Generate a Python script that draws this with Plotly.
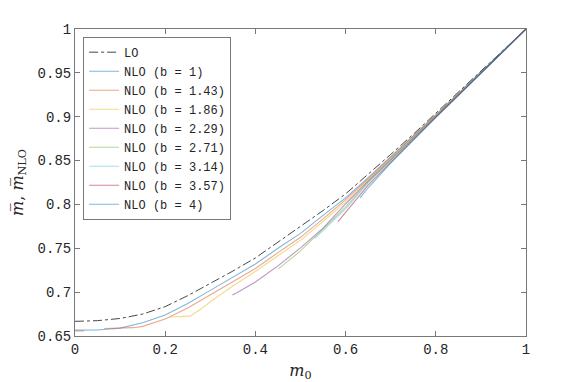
import plotly.graph_objects as go

# ── Data ─────────────────────────────────────────────────────────────────────
M0_GRID = [0.00, 0.05, 0.10, 0.15, 0.20, 0.25, 0.30, 0.35, 0.40, 0.45, 0.50,
           0.55, 0.60, 0.65, 0.70, 0.75, 0.80, 0.85, 0.90, 0.95, 1.00]

LO_VALS = [0.6667, 0.6675, 0.6700, 0.6750, 0.6835, 0.6960, 0.7100, 0.7240,
           0.7390, 0.7570, 0.7740, 0.7930, 0.8120, 0.8340, 0.8570, 0.8800,
           0.9040, 0.9280, 0.9520, 0.9760, 1.0000]

B_LABELS = ["1", "1.43", "1.86", "2.29", "2.71", "3.14", "3.57", "4"]

NLO_X = {
    "1":    M0_GRID,
    "1.43": [0.0, 0.02, None, 0.065, 0.10, 0.13, 0.15, 0.20, 0.25, 0.30, 0.35,
             0.40, 0.45, 0.50, 0.55, 0.60, 0.65, 0.70, 0.75, 0.80, 0.85, 0.90,
             0.95, 1.00],
    "1.86": [0.21, 0.255, 0.28, 0.30, 0.35, 0.40, 0.45, 0.50, 0.55, 0.60, 0.65,
             0.70, 0.75, 0.80, 0.85, 0.90, 0.95, 1.00],
    "2.29": [0.349, 0.36, 0.40, 0.45, 0.50, 0.55, 0.60, 0.65, 0.70, 0.75, 0.80,
             0.85, 0.90, 0.95, 1.00],
    "2.71": [0.451, 0.50, 0.55, 0.60, 0.65, 0.70, 0.75, 0.80, 0.85, 0.90, 0.95,
             1.00],
    "3.14": [0.532, 0.55, 0.60, 0.65, 0.70, 0.75, 0.80, 0.85, 0.90, 0.95, 1.00],
    "3.57": [0.583, 0.60, 0.65, 0.70, 0.75, 0.80, 0.85, 0.90, 0.95, 1.00],
    "4":    [0.632, 0.65, 0.70, 0.75, 0.80, 0.85, 0.90, 0.95, 1.00],
}

NLO_Y = {
    "1":    [0.6567, 0.6568, 0.6590, 0.6650, 0.6740, 0.6870, 0.7020, 0.7170,
             0.7320, 0.7500, 0.7670, 0.7875, 0.8075, 0.8305, 0.8540, 0.8775,
             0.9020, 0.9265, 0.9510, 0.9755, 1.0000],
    "1.43": [0.6557, 0.6557, None, 0.6585, 0.6587, 0.6595, 0.6610, 0.6695,
             0.6820, 0.6970, 0.7125, 0.7270, 0.7450, 0.7625, 0.7835, 0.8055,
             0.8290, 0.8530, 0.8770, 0.9015, 0.9260, 0.9505, 0.9753, 1.0000],
    "1.86": [0.6717, 0.6727, 0.6810, 0.6890, 0.7070, 0.7235, 0.7415, 0.7590,
             0.7805, 0.8030, 0.8275, 0.8520, 0.8760, 0.9010, 0.9255, 0.9500,
             0.9750, 1.0000],
    "2.29": [0.6967, 0.6995, 0.7115, 0.7300, 0.7505, 0.7730, 0.8005, 0.8265,
             0.8510, 0.8755, 0.9005, 0.9250, 0.9497, 0.9749, 1.0000],
    "2.71": [0.7265, 0.7470, 0.7720, 0.7970, 0.8255, 0.8500, 0.8750, 0.9000,
             0.9248, 0.9495, 0.9748, 1.0000],
    "3.14": [0.7614, 0.7700, 0.7950, 0.8245, 0.8495, 0.8745, 0.8998, 0.9246,
             0.9494, 0.9747, 1.0000],
    "3.57": [0.7805, 0.7910, 0.8220, 0.8480, 0.8740, 0.8995, 0.9244, 0.9493,
             0.9746, 1.0000],
    "4":    [0.8075, 0.8190, 0.8470, 0.8735, 0.8990, 0.9240, 0.9490, 0.9745,
             1.0000],
}

# MATLAB default colour order, drawn half transparent
B_COLORS = {
    "1":    "rgba(0,114,189,0.5)",
    "1.43": "rgba(217,83,25,0.5)",
    "1.86": "rgba(237,177,32,0.5)",
    "2.29": "rgba(126,47,142,0.5)",
    "2.71": "rgba(119,172,48,0.5)",
    "3.14": "rgba(77,190,238,0.5)",
    "3.57": "rgba(162,20,47,0.5)",
    "4":    "rgba(0,114,189,0.5)",
}

X_TICKS = [0, 0.2, 0.4, 0.6, 0.8, 1]
X_TICK_TEXT = ["0", "0.2", "0.4", "0.6", "0.8", "1"]
Y_TICKS = [0.65, 0.7, 0.75, 0.8, 0.85, 0.9, 0.95, 1]
Y_TICK_TEXT = ["0.65", "0.7", "0.75", "0.8", "0.85", "0.9", "0.95", "1"]

MONO = "Liberation Mono, Courier New, monospace"
SERIF = "DejaVu Serif, Liberation Serif, serif"
AX_GRAY = "rgb(120,120,120)"
TXT = "rgb(38,38,38)"

# ── Figure ───────────────────────────────────────────────────────────────────
fig = go.Figure()

fig.add_trace(go.Scatter(
    x=M0_GRID, y=LO_VALS, mode="lines", name="LO",
    line=dict(color="rgb(50,50,50)", width=0.9, dash="dashdot"),
))

for b in B_LABELS:
    fig.add_trace(go.Scatter(
        x=NLO_X[b], y=NLO_Y[b], mode="lines",
        name=f"NLO (b = {b})",
        line=dict(color=B_COLORS[b], width=1.1),
        connectgaps=False,
    ))

axis_common = dict(
    showgrid=False, zeroline=False, automargin=False,
    showline=True, linecolor=AX_GRAY, linewidth=1, mirror="ticks",
    ticks="inside", ticklen=5, tickcolor=AX_GRAY, tickwidth=1,
    tickfont=dict(family=MONO, size=14, color=TXT),
)

fig.update_xaxes(
    range=[0, 1], tickvals=X_TICKS, ticktext=X_TICK_TEXT,
    title=dict(text="<i>m</i><sub>0</sub>",
               font=dict(family=SERIF, size=16, color=TXT),
               standoff=10),
    **axis_common,
)
fig.update_yaxes(
    range=[0.65, 1], tickvals=Y_TICKS, ticktext=Y_TICK_TEXT,
    title=dict(text="<i>m\u0305</i>, <i>m\u0305</i><sub>NLO</sub>",
               font=dict(family=SERIF, size=16, color=TXT),
               standoff=14),
    **axis_common,
)

# the page body adds an 8px offset at top-left, so shrink the figure by 8px
fig.update_layout(
    width=573, height=374,
    margin=dict(l=67, r=55, t=21, b=46),
    paper_bgcolor="white", plot_bgcolor="white",
    showlegend=True,
    legend=dict(
        x=0.018, y=0.975, xanchor="left", yanchor="top",
        bgcolor="white", bordercolor=AX_GRAY, borderwidth=1,
        font=dict(family=MONO, size=12, color=TXT),
        itemwidth=30, tracegroupgap=0,
    ),
)

fig.write_html("out.html")
